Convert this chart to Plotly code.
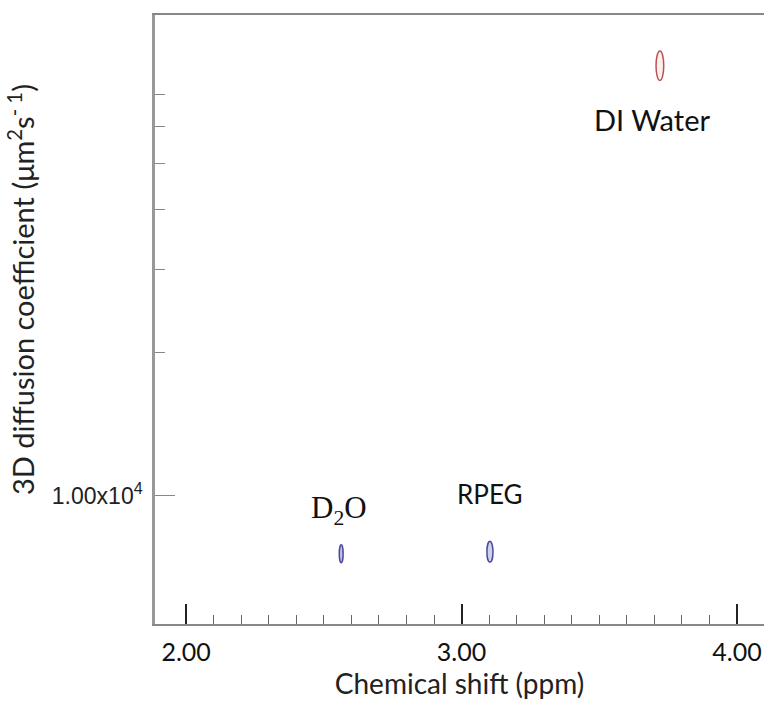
import math
import plotly.graph_objects as go

# Peak data (chemical shift in ppm, diffusion coefficient in um^2/s)
peak_names = ["D<sub>2</sub>O", "RPEG", "DI Water"]
peak_shift = [2.563, 3.103, 3.72]
peak_diff = [7550, 7620, 80400]
peak_width_ppm = [0.014, 0.022, 0.028]   # contour width
peak_height_dec = [0.038, 0.044, 0.062]  # contour height in log10 decades
peak_colors = ["#4a4aa0", "#4a4aa0", "#c0504d"]
peak_fill = ["rgba(74,74,160,0.35)", "rgba(74,74,160,0.25)", "rgba(192,80,77,0.08)"]

x_major = [2.0, 3.0, 4.0]
x_major_text = ["2.00", "3.00", "4.00"]
x_minor = [2.1, 2.2, 2.3, 2.4, 2.5, 2.6, 2.7, 2.8, 2.9,
           3.1, 3.2, 3.3, 3.4, 3.5, 3.6, 3.7, 3.8, 3.9]
y_major = [1e4]
y_major_text = ["1.00x10<sup>4</sup>"]
y_minor = [2e4, 3e4, 4e4, 5e4, 6e4, 7e4]

fig = go.Figure()
# invisible trace to anchor the axes
fig.add_trace(go.Scatter(x=peak_shift, y=peak_diff, mode="markers",
                         marker=dict(size=1, color="rgba(0,0,0,0)"),
                         hoverinfo="skip", showlegend=False))

for xc, yc, w, h, col, fc in zip(peak_shift, peak_diff, peak_width_ppm, peak_height_dec, peak_colors, peak_fill):
    fig.add_shape(type="circle", xref="x", yref="y",
                  x0=xc - w / 2, x1=xc + w / 2,
                  y0=yc / 10 ** (h / 2), y1=yc * 10 ** (h / 2),
                  fillcolor=fc, line=dict(color=col, width=1.5))

label_shift = [44, 58, -54]
label_fonts = [dict(family="Liberation Serif", size=31, color="#111"),
               dict(family="Lato", size=26, color="#111"),
               dict(family="Lato", size=29, color="#111")]
label_dx = [-2, 0, -8]
for name, xc, yc, dy, f, dx in zip(peak_names, peak_shift, peak_diff, label_shift, label_fonts, label_dx):
    fig.add_annotation(x=xc, y=math.log10(yc), xref="x", yref="y", text=name,
                       showarrow=False, yshift=dy, xshift=dx, font=f)

fig.add_annotation(xref="paper", yref="paper", x=(21 - 155) / 609, y=1 - (290 - 15) / 609,
                   xanchor="center", yanchor="middle",
                   text="3D diffusion coefficient (μm<sup>2</sup>s<sup>- 1</sup>)",
                   textangle=-90, showarrow=False,
                   font=dict(family="Lato", size=29, color="#222"))

fig.update_layout(
    width=764, height=702,
    margin=dict(l=155, r=0, t=15, b=78),
    paper_bgcolor="white", plot_bgcolor="white",
    showlegend=False,
    xaxis=dict(range=[1.887, 4.098], tickmode="array", tickvals=x_major, ticktext=x_major_text,
               ticks="inside", ticklen=20, tickwidth=1.5, tickcolor="#222",
               minor=dict(tickmode="array", tickvals=x_minor, ticks="inside", ticklen=9, tickwidth=1, tickcolor="#666", showgrid=False),
               showline=True, linecolor="#888", linewidth=1.5, mirror=True,
               showgrid=False, zeroline=False, ticklabelstandoff=5,
               tickfont=dict(family="Lato", size=25, color="#111"),
               title=dict(text="Chemical shift (ppm)", font=dict(family="Lato", size=28, color="#222"), standoff=8)),
    yaxis=dict(type="log", range=[3.73, 5.012], tickmode="array", tickvals=y_major, ticktext=y_major_text,
               ticks="inside", ticklen=20, tickwidth=1.2, tickcolor="#888",
               minor=dict(tickmode="array", tickvals=y_minor, ticks="inside", ticklen=10, tickwidth=1.2, tickcolor="#888", showgrid=False),
               showline=True, linecolor="#999", linewidth=2.5, mirror=False,
               showgrid=False, zeroline=False, ticklabelstandoff=5,
               tickfont=dict(family="Liberation Sans", size=23, color="#222")),
)

fig.write_html("out.html")
